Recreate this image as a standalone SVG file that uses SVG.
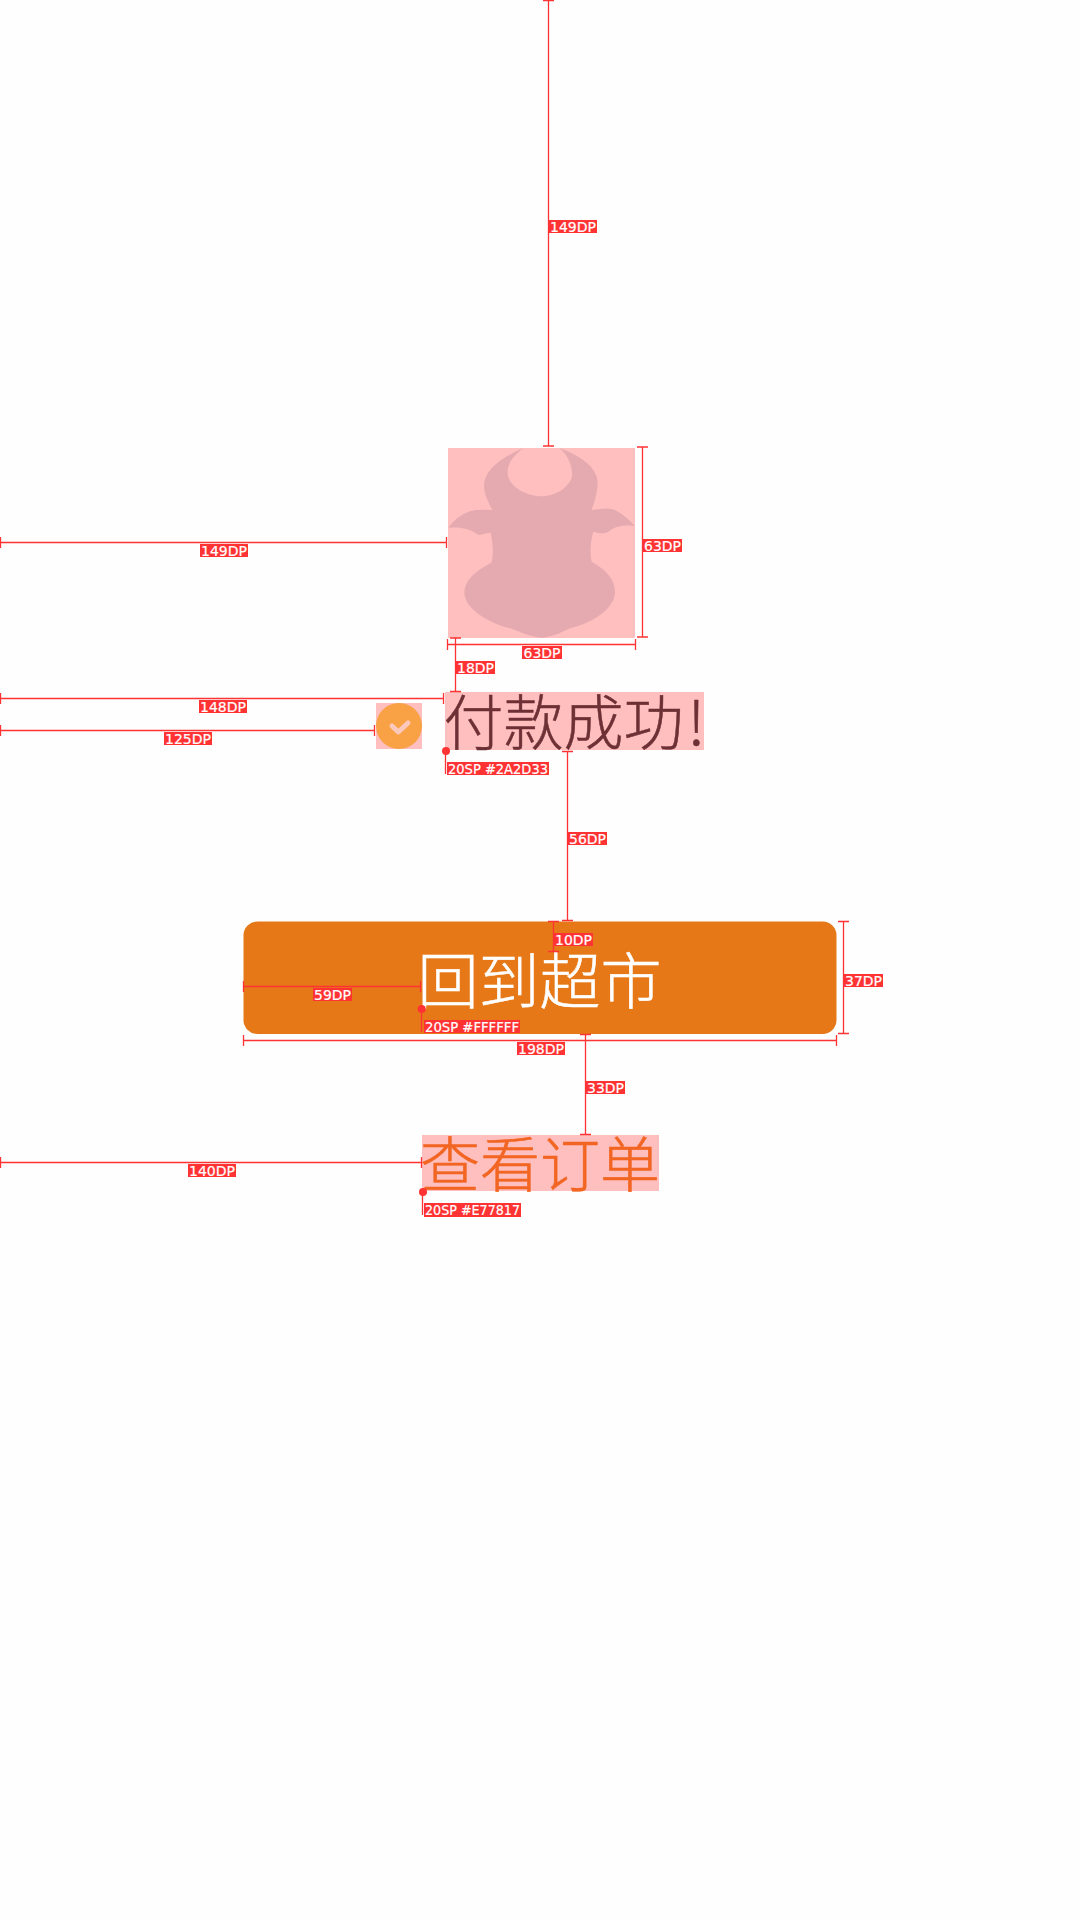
<svg xmlns="http://www.w3.org/2000/svg" width="1080" height="1921" viewBox="0 0 1080 1921">
<style>
.d{stroke:#ff3333;stroke-width:1.3;fill:none}
.lb{fill:#ff3333}
.t{font-family:"DejaVu Sans","Liberation Sans",sans-serif;font-size:14.5px;fill:#fff;stroke:#fff;stroke-width:.2;text-anchor:middle}
.cjk{font-family:"Noto Sans CJK SC",sans-serif;font-size:60px;font-weight:300;stroke-width:.5}
.p{fill:#ffbfbf}
.dot{fill:#ff3333}
</style>
<rect width="1080" height="1921" fill="#fefefe"/>
<g id="logo">
<rect class="p" x="448" y="448" width="187" height="190"/>
<path transform="translate(400,420) scale(.33333)" fill="#e5aab0" d="M370,84C300,115 255,150 252,195C252,225 265,245 277,270C230,268 190,265 145,323C180,320 210,325 235,345C250,342 260,340 272,338C278,365 282,400 274,428C230,450 193,480 193,520C195,560 250,605 330,625C370,640 400,653 425,653C450,653 480,640 510,625C590,605 645,560 645,515C645,480 620,450 575,425C570,400 570,370 580,335C600,340 610,343 625,335C650,315 680,315 705,318C670,280 640,262 615,266C600,266 590,268 575,270C590,230 597,190 590,170C575,125 520,100 478,84C510,110 520,150 515,175C500,210 460,230 420,229C380,228 325,200 323,160C322,125 345,105 370,84Z"/>
</g>
<g id="check-icon">
<rect class="p" x="376" y="703" width="46" height="46"/>
<circle cx="399" cy="726" r="23" fill="#f8a145"/>
<path d="M392,726L398.3,732L408,723" fill="none" stroke="#fdc8bc" stroke-width="5" stroke-linecap="round" stroke-linejoin="round"/>
</g>
<g id="title">
<rect class="p" x="445" y="692" width="259" height="58"/>
<text class="cjk" x="443.5" y="745" fill="#6d3035" stroke="#6d3035">付款成功<tspan dx="4">!</tspan></text>
</g>
<g id="button">
<rect x="243.5" y="921.5" width="593" height="112.5" rx="14" fill="#e67817"/>
<text class="cjk" x="417.5" y="1003.5" fill="#fff" stroke="#fff" style="font-size:61px">回到超市</text>
</g>
<g id="order-link">
<rect class="p" x="422" y="1135" width="237" height="56"/>
<text class="cjk" x="420" y="1187" fill="#f26522" stroke="#f26522">查看订单</text>
</g>
<g id="connectors">
<path class="d" d="M548.5,0V446M543,.6H554M543,446H554"/>
<path class="d" d="M0.5,542.5H446.5M0.5,537V548M446.5,537V548"/>
<path class="d" d="M642.5,447V637M637,447H648M637,637H648"/>
<path class="d" d="M447.5,644.5H635.5M447.5,639V650M635.5,639V650"/>
<path class="d" d="M455.5,638V691.5M450,638H461M450,691.5H461"/>
<path class="d" d="M0.5,698.5H443.5M0.5,693V704M443.5,693V704"/>
<path class="d" d="M0.5,730.5H374.5M0.5,725V736M374.5,725V736"/>
<path class="d" d="M567.5,751.5V920.5M562,751.5H573M562,920.5H573"/>
<path class="d" d="M553.5,921.5V951.5M548,921.5H559M548,951.5H559"/>
<path class="d" d="M243.5,986.5H420.5M243.5,981V992M420.5,981V992"/>
<path class="d" d="M243.5,1040.5H836.5M243.5,1035V1046M836.5,1035V1046"/>
<path class="d" d="M843.5,921.5V1033.5M838,921.5H849M838,1033.5H849"/>
<path class="d" d="M585.5,1034.5V1134.5M580,1034.5H591M580,1134.5H591"/>
<path class="d" d="M0.5,1162.5H421.5M0.5,1157V1168M421.5,1157V1168"/>
<path class="d" d="M445.5,750V774"/>
<path class="d" d="M421.5,1009V1032"/>
<path class="d" d="M422.5,1192V1215"/>
<circle class="dot" cx="446" cy="751" r="4"/>
<circle class="dot" cx="421.7" cy="1009" r="4"/>
<circle class="dot" cx="423" cy="1192" r="4"/>
</g>
<g id="labels">
<rect class="lb" x="549" y="220" width="48" height="13"/><text class="t" x="573" y="231.5" textLength="46" lengthAdjust="spacingAndGlyphs">149DP</text>
<rect class="lb" x="200" y="544" width="48" height="13"/><text class="t" x="224" y="555.5" textLength="46" lengthAdjust="spacingAndGlyphs">149DP</text>
<rect class="lb" x="643" y="539" width="39" height="13"/><text class="t" x="662.5" y="550.5" textLength="37" lengthAdjust="spacingAndGlyphs">63DP</text>
<rect class="lb" x="522" y="646" width="40" height="13"/><text class="t" x="542" y="657.5" textLength="37" lengthAdjust="spacingAndGlyphs">63DP</text>
<rect class="lb" x="456" y="661" width="39" height="13"/><text class="t" x="475.5" y="672.5" textLength="37" lengthAdjust="spacingAndGlyphs">18DP</text>
<rect class="lb" x="199" y="700" width="48" height="13"/><text class="t" x="223" y="711.5" textLength="46" lengthAdjust="spacingAndGlyphs">148DP</text>
<rect class="lb" x="164" y="732" width="48" height="13"/><text class="t" x="188" y="743.5" textLength="46" lengthAdjust="spacingAndGlyphs">125DP</text>
<rect class="lb" x="447" y="762" width="102" height="13"/><text class="t" x="498" y="773.5" textLength="100" lengthAdjust="spacingAndGlyphs">20SP #2A2D33</text>
<rect class="lb" x="568" y="832" width="39" height="13"/><text class="t" x="587.5" y="843.5" textLength="37" lengthAdjust="spacingAndGlyphs">56DP</text>
<rect class="lb" x="554" y="933" width="39" height="13"/><text class="t" x="573.5" y="944.5" textLength="37" lengthAdjust="spacingAndGlyphs">10DP</text>
<rect class="lb" x="313" y="988" width="39" height="13"/><text class="t" x="332.5" y="999.5" textLength="37" lengthAdjust="spacingAndGlyphs">59DP</text>
<rect class="lb" x="424" y="1020" width="96" height="13"/><text class="t" x="472" y="1031.5" textLength="94" lengthAdjust="spacingAndGlyphs">20SP #FFFFFF</text>
<rect class="lb" x="517" y="1042" width="48" height="13"/><text class="t" x="541" y="1053.5" textLength="46" lengthAdjust="spacingAndGlyphs">198DP</text>
<rect class="lb" x="844" y="974" width="39" height="13"/><text class="t" x="863.5" y="985.5" textLength="37" lengthAdjust="spacingAndGlyphs">37DP</text>
<rect class="lb" x="586" y="1081" width="39" height="13"/><text class="t" x="605.5" y="1092.5" textLength="37" lengthAdjust="spacingAndGlyphs">33DP</text>
<rect class="lb" x="188" y="1164" width="48" height="13"/><text class="t" x="212" y="1175.5" textLength="46" lengthAdjust="spacingAndGlyphs">140DP</text>
<rect class="lb" x="424" y="1203" width="97" height="14"/><text class="t" x="472.5" y="1215" textLength="95" lengthAdjust="spacingAndGlyphs">20SP #E77817</text>
</g>
</svg>
